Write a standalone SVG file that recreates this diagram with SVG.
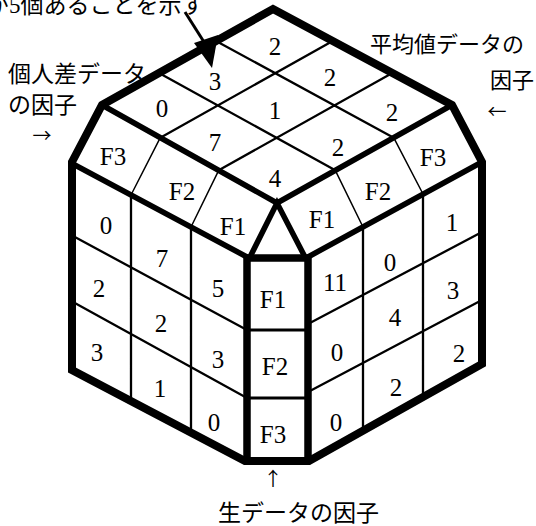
<svg xmlns="http://www.w3.org/2000/svg" width="536" height="526" viewBox="0 0 536 526">
<style>
.ln{stroke:#000;fill:none;stroke-linecap:butt}
.outer{stroke-width:8;stroke-linejoin:miter}
.edge{stroke-width:5.5;stroke-linejoin:miter}
.col{stroke-width:7.5}
.grid{stroke-width:2.3}
.div{stroke-width:1.5}
.num{font-family:"Liberation Serif","Times New Roman","DejaVu Serif",serif;font-size:25px;text-anchor:middle;fill:#000}
.jp{font-family:"Liberation Serif","Noto Sans CJK JP",serif;font-size:23px;fill:#000}
.ar{font-family:"Noto Sans CJK JP",sans-serif;font-size:19px;text-anchor:middle;fill:#000}
</style>
<rect width="536" height="526" fill="#fff"/>

<g id="top-face">
  <path class="ln grid" d="M216,41 L393.7,137.7 M159,73 L335.3,170.3 M332.7,41 L160.3,137.7 M392.3,73 L218.7,170.3"/>
  <text class="num" x="275" y="54.5">2</text>
  <text class="num" x="215" y="89.5">3</text>
  <text class="num" x="330" y="85.5">2</text>
  <text class="num" x="162" y="116.5">0</text>
  <text class="num" x="275" y="118.5">1</text>
  <text class="num" x="392" y="120.5">2</text>
  <text class="num" x="215" y="150.5">7</text>
  <text class="num" x="338" y="155.5">2</text>
  <text class="num" x="275" y="186.5">4</text>
</g>

<g id="left-bevel">
  <path class="ln div" d="M160.3,137.7 L131,195 M218.7,170.3 L191,227"/>
  <text class="num" x="113" y="165">F3</text>
  <text class="num" x="182" y="200">F2</text>
  <text class="num" x="233" y="235">F1</text>
</g>

<g id="right-bevel">
  <path class="ln div" d="M335.3,170.3 L363,227 M393.7,137.7 L423,194"/>
  <text class="num" x="322" y="228">F1</text>
  <text class="num" x="378" y="200">F2</text>
  <text class="num" x="433" y="166">F3</text>
</g>

<g id="left-face">
  <path class="ln grid" d="M131,195 L131,401 M191,227 L191,432 M73,236 L247,330 M73,302 L247,398"/>
  <text class="num" x="106" y="233.5">0</text>
  <text class="num" x="162" y="266.5">7</text>
  <text class="num" x="218" y="296.5">5</text>
  <text class="num" x="99" y="296.5">2</text>
  <text class="num" x="161" y="331.5">2</text>
  <text class="num" x="218" y="367.5">3</text>
  <text class="num" x="97" y="360.5">3</text>
  <text class="num" x="160" y="396.5">1</text>
  <text class="num" x="214" y="430.5">0</text>
</g>

<g id="right-face">
  <path class="ln grid" d="M363,227 L363,429 M423,194 L423,396 M308,324 L482,232 M308,392 L482,300"/>
  <text class="num" x="335" y="290.5">11</text>
  <text class="num" x="390" y="270.5">0</text>
  <text class="num" x="452" y="230.5">1</text>
  <text class="num" x="337" y="360.5">0</text>
  <text class="num" x="395" y="325.5">4</text>
  <text class="num" x="453" y="298.5">3</text>
  <text class="num" x="336" y="430.5">0</text>
  <text class="num" x="396" y="395.5">2</text>
  <text class="num" x="459" y="361.5">2</text>
</g>

<g id="center-column">
  <path class="ln grid" style="stroke-width:3" d="M247,330 L308,330 M247,398 L308,398"/>
  <path class="ln col" d="M247,257 L247,462 M308,257 L308,462 M247,258 L308,258"/>
  <text class="num" x="273" y="308">F1</text>
  <text class="num" x="275" y="375">F2</text>
  <text class="num" x="273" y="443">F3</text>
</g>

<g id="cube-edges">
  <path class="ln edge" d="M102,105 L277,203 L452,105"/>
  <path class="ln edge" d="M73,164 L247,257 M308,257 L482,162"/>
  <path class="ln edge" d="M250,257 L277,203 L305,257"/>
  <path class="ln outer" d="M273,9 L452,105 L482,162 L482,364 L309,461 L245,461 L72,370 L72,162 L102,105 Z"/>
</g>

<g id="labels">
  <text class="jp" x="-14" y="13">が5個あることを示す</text>
  <text class="jp" x="8" y="82">個人差データ</text>
  <text class="jp" x="8" y="113">の因子</text>
  <text class="ar" x="42" y="143">→</text>
  <text class="jp" x="370" y="52" style="font-size:22px">平均値データの</text>
  <text class="jp" x="490" y="88" style="font-size:22px">因子</text>
  <text class="ar" x="497" y="119">←</text>
  <text class="ar" x="273" y="486">↑</text>
  <text class="jp" x="218" y="521">生データの因子</text>
</g>

<g id="connectors">
  <path class="ln" style="stroke-width:3" d="M185,12 L204,42"/>
  <polygon points="194,43 218,35 212,68" fill="#000"/>
</g>
</svg>
